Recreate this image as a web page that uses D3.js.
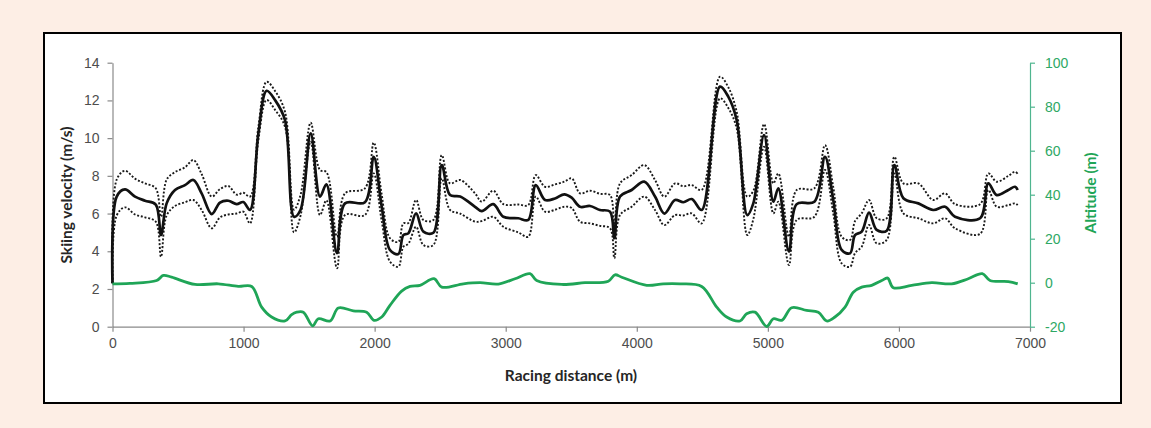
<!DOCTYPE html>
<html><head><meta charset="utf-8">
<script src="https://cdn.jsdelivr.net/npm/d3@7"></script>
<style>
html,body{margin:0;padding:0;background:#fdeee5;}
svg{display:block;font-family:Lato,"Liberation Sans",sans-serif;}
</style></head><body>
<svg id="chart" width="1151" height="428"></svg>
<script>
// ---- data ----
const distance = [0,32,95,172,248,330,370,413,477,553,617,680,757,820,884,947,998,1049,1113,1176,1240,1316,1385,1435,1512,1583,1632,1713,1774,1926,1993,2054,2117,2181,2219,2257,2316,2372,2448,2512,2575,2652,2766,2817,2905,2982,3096,3172,3229,3300,3376,3447,3503,3567,3643,3719,3796,3829,3872,3961,4057,4139,4210,4292,4355,4419,4495,4635,4698,4762,4843,4889,4971,5042,5080,5161,5220,5355,5436,5499,5563,5627,5665,5716,5772,5830,5907,5965,6034,6148,6262,6352,6428,6619,6682,6746,6835,6886,6906];
const velocityMean = [2.3,6.9,7.28,6.9,6.68,6.48,4.86,6.54,7.25,7.51,7.78,7.07,5.97,6.58,6.68,6.5,6.61,6.19,10.25,12.51,12.02,10.96,5.83,6.2,10.25,6.9,7.55,3.9,6.54,6.6,9.01,6.36,4.07,3.85,4.86,4.95,6.01,5.04,4.98,8.57,6.98,6.9,6.36,6.13,6.5,5.83,5.75,5.66,7.51,6.72,6.8,7.02,6.84,6.36,6.4,6.19,6.1,4.69,6.9,7.25,7.69,6.9,6.0,6.72,6.6,6.77,6.19,12.73,12.2,10.96,5.92,6.54,10.16,6.63,7.34,3.98,6.5,6.63,9.01,6.72,4.07,3.89,4.86,5.04,6.05,5.13,5.09,8.57,6.81,6.54,6.19,6.36,5.83,5.75,7.6,6.98,7.25,7.42,7.25];
const velocityUpper = [2.3,7.8,8.27,7.85,7.6,7.34,5.83,7.8,8.2,8.45,8.84,8.1,6.9,7.3,7.46,7.0,7.1,6.9,10.6,12.99,12.5,11.4,6.2,7.0,10.82,8.31,8.2,4.77,7.07,7.34,9.76,7.0,4.69,4.5,5.48,5.5,6.72,5.66,5.66,9.1,7.6,7.78,7.07,6.63,7.21,6.5,6.48,6.45,8.04,7.42,7.55,7.69,7.87,7.07,7.21,7.05,6.98,5.39,7.6,8.04,8.57,7.78,6.9,7.6,7.45,7.51,7.25,13.26,12.7,11.4,6.9,7.2,10.75,7.6,8.13,4.77,7.25,7.34,9.63,7.4,4.77,4.6,5.6,6.01,6.72,5.75,5.75,9.01,7.6,7.6,6.72,7.07,6.5,6.5,8.13,7.69,8.0,8.22,8.1];
const velocityLower = [2.3,5.9,6.33,5.95,5.8,5.57,3.71,5.9,6.4,6.6,6.72,6.19,5.22,5.8,5.95,6.0,6.1,5.48,9.9,12.02,11.5,10.6,5.0,5.9,9.81,5.92,6.7,3.1,5.92,5.92,8.13,5.6,3.45,3.18,4.24,4.4,5.3,4.33,4.33,7.87,6.19,6.0,5.57,5.6,5.83,5.3,5.0,4.77,6.9,6.1,6.2,6.36,6.3,5.57,5.48,5.35,5.22,3.63,5.92,6.36,6.9,6.19,5.39,5.92,5.9,6.01,5.48,12.11,11.6,10.52,4.86,5.7,9.54,6.01,6.63,3.27,5.66,5.83,8.31,6.0,3.36,3.18,3.9,4.24,5.39,4.42,4.6,8.13,6.01,5.75,5.48,5.75,5.22,4.92,7.25,6.36,6.45,6.54,6.45];
const altitudeDistance = [0,133,337,388,451,630,807,960,1062,1138,1214,1316,1367,1405,1456,1527,1570,1660,1723,1837,1939,1995,2054,2117,2206,2270,2346,2453,2512,2677,2804,2944,3071,3185,3236,3427,3605,3783,3834,3885,4076,4202,4330,4495,4610,4686,4787,4838,4902,4991,5042,5106,5182,5296,5385,5449,5512,5589,5652,5716,5792,5869,5914,5957,6097,6250,6402,6529,6636,6695,6835,6906];
const altitude = [-0.5,-0.3,1.0,3.3,2.5,-0.8,-0.5,-1.7,-1.7,-11.1,-15.6,-17.4,-14.5,-13.4,-13.4,-19.6,-16.4,-17.4,-11.5,-12.8,-13.4,-17.1,-15.6,-10.3,-3.8,-1.7,-1.2,1.8,-2.0,-0.5,0,-0.6,1.8,4.1,1.0,-0.8,0,0.7,3.6,2.5,-1.2,-0.5,-0.5,-1.7,-11.1,-15.6,-17.4,-14.1,-13.4,-19.9,-16.4,-17.1,-11.4,-12.6,-13.4,-17.4,-15.6,-11.1,-4.3,-2.0,-1.2,1.0,2.1,-2.3,-1.2,0,-0.5,1.8,4.1,1.0,0.5,-0.5];
const xTicks = [0,1000,2000,3000,4000,5000,6000,7000];
const yLeftTicks = [0,2,4,6,8,10,12,14];
const yRightTicks = [-20,0,20,40,60,80,100];
const xTitle = "Racing distance (m)";
const yLeftTitle = "Skiing velocity (m/s)";
const yRightTitle = "Altitude (m)";

// ---- drawing ----
const svg = d3.select('#chart');
svg.append('rect').attr('width',1151).attr('height',428).attr('fill','#fdeee5');
svg.append('rect').attr('x',44).attr('y',33).attr('width',1077).attr('height',370)
  .attr('fill','#ffffff').attr('stroke','#000').attr('stroke-width',2);

const x = d3.scaleLinear().domain([0,7000]).range([112.5,1030]);
const yL = d3.scaleLinear().domain([0,14]).range([326.7,62.7]);
const yR = d3.scaleLinear().domain([-20,100]).range([326.7,62.7]);

const gray = '#8a8a8a', txtGray = '#4d4d4d', green = '#1fa557', greenAxis = '#4fb58f', greenTxt = '#2ea864';
const fmt = d => String(d);

function styleAxis(g, lineColor, textColor){
  g.select('.domain').attr('stroke', lineColor).attr('stroke-width',1.2);
  g.selectAll('.tick line').attr('stroke', lineColor).attr('stroke-width',1.2);
  g.selectAll('.tick text').attr('fill', textColor).style('font-size','14px');
}

const gx = svg.append('g').attr('transform',`translate(0,${yL(0)})`)
  .call(d3.axisBottom(x).tickValues(xTicks).tickSize(5).tickSizeOuter(0).tickPadding(6).tickFormat(fmt));
styleAxis(gx, gray, txtGray);

const gyl = svg.append('g').attr('transform',`translate(${x(0)},0)`)
  .call(d3.axisLeft(yL).tickValues(yLeftTicks).tickSize(5).tickSizeOuter(0).tickPadding(8).tickFormat(fmt));
styleAxis(gyl, gray, txtGray);

const gyr = svg.append('g').attr('transform',`translate(${x(7000)},0)`)
  .call(d3.axisRight(yR).tickValues(yRightTicks).tickSize(5).tickSizeOuter(0).tickPadding(10).tickFormat(fmt));
styleAxis(gyr, greenAxis, greenTxt);

const curve = d3.curveCatmullRom.alpha(0.5);
function vLine(arr){
  return d3.line().x((d,i)=>x(distance[i])).y(d=>yL(d)).curve(curve)(arr);
}
svg.append('path').attr('d', vLine(velocityUpper)).attr('fill','none')
  .attr('stroke','#1a1a1a').attr('stroke-width',1.9).attr('stroke-dasharray','2,1.8');
svg.append('path').attr('d', vLine(velocityLower)).attr('fill','none')
  .attr('stroke','#1a1a1a').attr('stroke-width',1.9).attr('stroke-dasharray','2,1.8');
svg.append('path').attr('d', vLine(velocityMean)).attr('fill','none')
  .attr('stroke','#111').attr('stroke-width',2.7).attr('stroke-linejoin','round');

const altLine = d3.line().x((d,i)=>x(altitudeDistance[i])).y(d=>yR(d)).curve(curve);
svg.append('path').attr('d', altLine(altitude)).attr('fill','none')
  .attr('stroke',green).attr('stroke-width',2.8).attr('stroke-linejoin','round');

svg.append('text').attr('x',571).attr('y',381).attr('text-anchor','middle')
  .style('font-size','15.5px').style('font-weight','bold').attr('fill','#262626').text(xTitle);
svg.append('text').attr('transform','translate(72,195) rotate(-90)').attr('text-anchor','middle')
  .style('font-size','15.5px').style('font-weight','bold').attr('fill','#262626').text(yLeftTitle);
svg.append('text').attr('transform','translate(1096,193) rotate(-90)').attr('text-anchor','middle')
  .style('font-size','15.5px').style('font-weight','bold').attr('fill',green).text(yRightTitle);
</script>
</body></html>
